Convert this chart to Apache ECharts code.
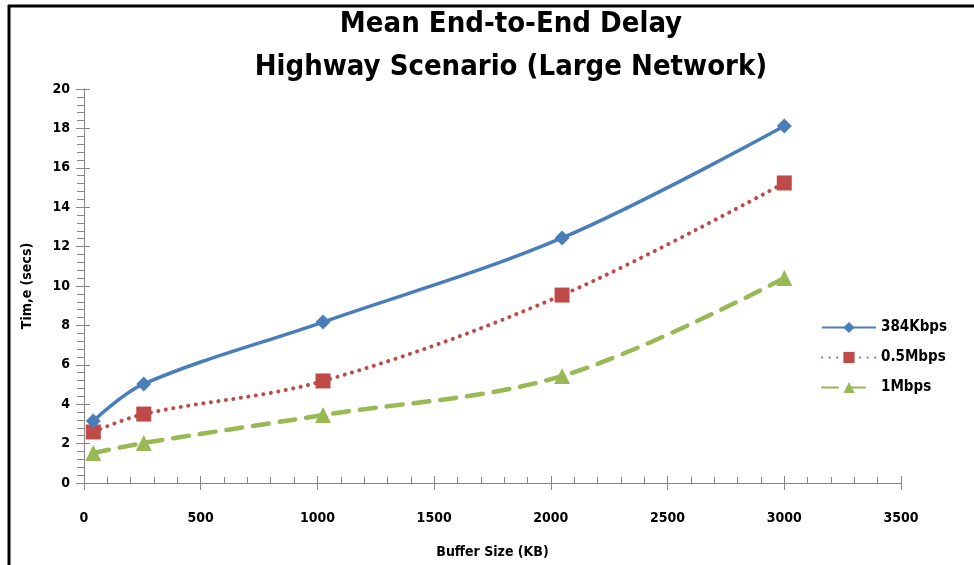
<!DOCTYPE html>
<html>
<head>
<meta charset="utf-8">
<script src="https://cdn.jsdelivr.net/npm/echarts@6/dist/echarts.min.js"></script>
<style>
  html, body { margin: 0; padding: 0; background: #fff; }
  #chart { width: 974px; height: 565px; }
</style>
</head>
<body>
<div id="chart"></div>
<script>
// Buffer sizes (KB) and mean end-to-end delay (secs) for each data rate
const bufferSizes = [40, 256, 1024, 2048, 3000];
const delay384Kbps = [3.15, 5.03, 8.17, 12.44, 18.12];
const delay05Mbps = [2.59, 3.50, 5.18, 9.54, 15.23];
const delay1Mbps = [1.52, 2.03, 3.45, 5.43, 10.40];
const seriesNames = ['384Kbps', '0.5Mbps', '1Mbps'];
const titleLines = ['Mean End-to-End Delay', 'Highway Scenario (Large Network)'];

const FONT = '"DejaVu Sans Condensed", "Noto Sans", sans-serif';
const axisGrey = '#868686';

function pairs(values) {
  return bufferSizes.map((x, i) => [x, values[i]]);
}

const chart = echarts.init(document.getElementById('chart'));

const baseX = {
  type: 'value', min: 0, max: 3500, interval: 500,
  axisLine: { lineStyle: { color: axisGrey, width: 1 } },
  splitLine: { show: false }
};
const baseY = {
  type: 'value', min: 0, max: 20, interval: 2,
  axisLine: { show: true, lineStyle: { color: axisGrey, width: 1 } },
  splitLine: { show: false }
};

chart.setOption({
  backgroundColor: '#fff',
  animation: false,
  title: {
    text: titleLines.join('\n'),
    top: -2,
    left: 506,
    textAlign: 'center',
    textStyle: {
      fontFamily: FONT, fontSize: 29, fontWeight: 'bold', color: '#000', lineHeight: 43
    }
  },
  grid: { left: 84, right: 73, top: 89, bottom: 82 },
  legend: {
    orient: 'vertical',
    left: 816,
    top: 315,
    itemWidth: 54,
    itemHeight: 14,
    itemGap: 15,
    textStyle: { fontFamily: FONT, fontSize: 15, color: '#000', fontWeight: 'bold' },
    data: seriesNames
  },
  xAxis: [
    Object.assign({}, baseX, {
      name: 'Buffer Size (KB)',
      nameLocation: 'middle',
      nameGap: 62,
      nameTextStyle: { fontFamily: FONT, fontSize: 14, color: '#000', fontWeight: 'bold' },
      axisTick: { show: true, inside: true, length: 7, lineStyle: { color: axisGrey } },
      minorTick: { show: true, splitNumber: 5, length: 6, lineStyle: { color: axisGrey } },
      axisLabel: {
        fontFamily: FONT, fontSize: 14, color: '#000', fontWeight: 'bold', margin: 28,
        formatter: v => String(v)
      }
    }),
    Object.assign({}, baseX, {
      position: 'bottom',
      axisTick: { show: true, inside: false, length: 7, lineStyle: { color: axisGrey } },
      axisLabel: { show: false }
    })
  ],
  yAxis: [
    Object.assign({}, baseY, {
      name: 'Tim,e (secs)',
      nameLocation: 'middle',
      nameGap: 50,
      nameTextStyle: { fontFamily: FONT, fontSize: 14, color: '#000', fontWeight: 'bold' },
      axisTick: { show: true, inside: false, length: 8, lineStyle: { color: axisGrey } },
      minorTick: { show: true, splitNumber: 5, length: 7, lineStyle: { color: axisGrey } },
      axisLabel: { fontFamily: FONT, fontSize: 14, color: '#000', fontWeight: 'bold', margin: 14 }
    }),
    Object.assign({}, baseY, {
      position: 'left',
      axisTick: { show: true, inside: true, length: 6, lineStyle: { color: axisGrey } },
      axisLabel: { show: false }
    })
  ],
  graphic: [
    { type: 'line', shape: { x1: 8, y1: 6, x2: 974, y2: 6 }, style: { stroke: '#000', lineWidth: 3 } },
    { type: 'line', shape: { x1: 9, y1: 5, x2: 9, y2: 565 }, style: { stroke: '#000', lineWidth: 3 } }
  ],
  series: [
    {
      name: seriesNames[0], type: 'line', smooth: 0.35,
      data: pairs(delay384Kbps),
      symbol: 'diamond', symbolSize: 15,
      lineStyle: { color: '#4a7ebb', width: 3.5 },
      itemStyle: { color: '#4a7ebb' },
      z: 3
    },
    {
      name: seriesNames[1], type: 'line', smooth: 0.35,
      data: pairs(delay05Mbps),
      symbol: 'rect', symbolSize: 15,
      lineStyle: { color: '#be4b48', width: 4, type: [0.1, 7.5], cap: 'round' },
      itemStyle: { color: '#be4b48' },
      z: 2
    },
    {
      name: seriesNames[2], type: 'line', smooth: 0.35,
      data: pairs(delay1Mbps),
      symbol: 'triangle', symbolSize: 16,
      lineStyle: { color: '#98b954', width: 4.5, type: [16, 11], cap: 'round' },
      itemStyle: { color: '#98b954' },
      z: 1
    }
  ]
});
</script>
</body>
</html>
